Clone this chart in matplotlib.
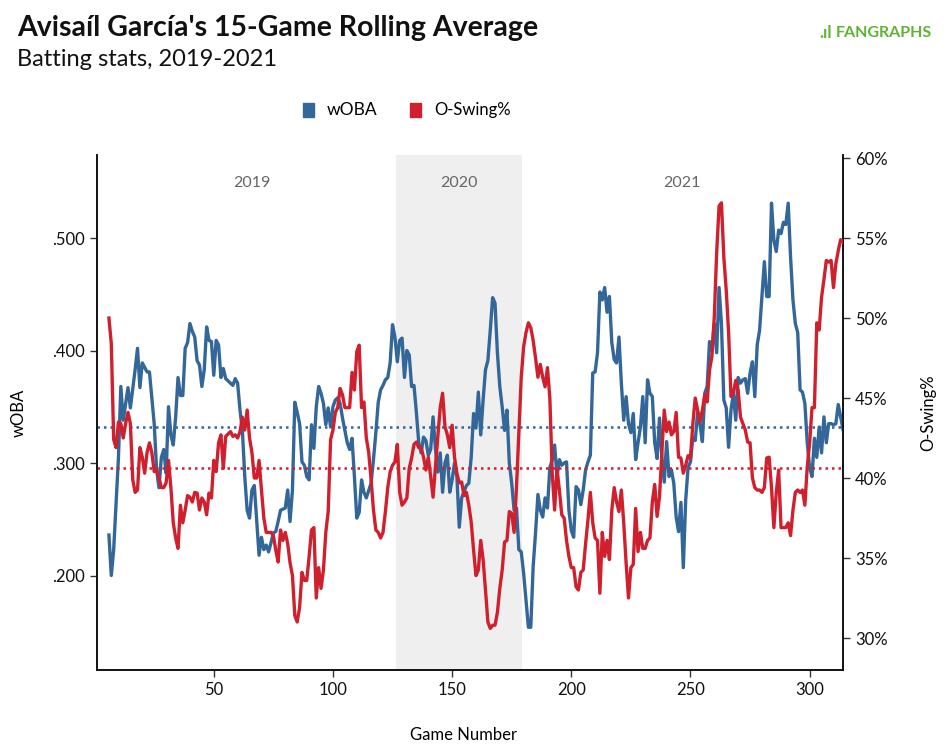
import matplotlib
matplotlib.use("Agg")
import matplotlib.pyplot as plt
from matplotlib.patches import Rectangle

plt.rcParams['font.family'] = ['Lato', 'DejaVu Sans']

# ---------------- data ----------------
woba_games = [6, 7, 8, 10, 11, 12, 14, 15, 17, 18, 19, 20, 22, 23, 25, 26, 27, 28, 29, 30,
              31, 32, 33, 34, 35, 36, 37, 38, 39, 40, 41, 42, 43, 44, 45, 46, 47, 48, 49, 50,
              51, 52, 53, 54, 55, 57, 58, 59, 60, 61, 62, 63, 64, 65, 66, 67, 68, 69, 70, 71,
              72, 73, 74, 75, 76, 77, 78, 80, 81, 82, 83, 84, 85, 86, 87, 88, 89, 90, 91, 92,
              93, 94, 95, 96, 97, 98, 99, 100, 101, 102, 103, 104, 106, 107, 108, 109, 110, 111, 112, 113,
              114, 116, 117, 118, 119, 120, 121, 122, 123, 124, 125, 126, 127, 128, 129, 130, 131, 132, 133, 134,
              135, 136, 137, 138, 139, 140, 141, 142, 143, 144, 145, 146, 147, 148, 149, 150, 151, 152, 153, 154,
              156, 157, 158, 159, 160, 161, 162, 163, 164, 165, 166, 167, 168, 169, 170, 171, 172, 173, 174, 175,
              176, 177, 178, 179, 180, 181, 182, 183, 184, 185, 186, 187, 188, 189, 190, 191, 192, 193, 194, 195,
              196, 197, 198, 199, 200, 201, 202, 203, 204, 205, 206, 207, 208, 209, 210, 211, 212, 213, 214, 215,
              216, 217, 218, 219, 220, 221, 222, 223, 224, 225, 226, 227, 228, 229, 230, 231, 232, 233, 234, 235,
              236, 237, 238, 239, 240, 241, 242, 243, 244, 245, 246, 247, 248, 249, 250, 251, 252, 253, 254, 255,
              256, 257, 258, 259, 260, 261, 262, 263, 264, 265, 266, 267, 268, 269, 270, 271, 272, 273, 274, 275,
              276, 277, 278, 279, 280, 281, 282, 283, 284, 285, 286, 287, 288, 289, 290, 291, 292, 293, 294, 295,
              296, 297, 298, 299, 300, 301, 302, 303, 304, 305, 306, 307, 308, 309, 310, 311, 312, 313, 314]
woba_vals = [.236, .200, .223, .305, .368, .338, .367, .349, .383, .402, .367, .389, .381, .381, .335, .294, .278, .305, .312, .291,
             .350, .325, .316, .341, .376, .360, .360, .402, .407, .424, .417, .412, .391, .387, .368, .383, .421, .409, .408, .378,
             .409, .405, .376, .384, .375, .371, .369, .375, .371, .347, .329, .288, .258, .251, .276, .280, .249, .218, .234, .223,
             .227, .221, .229, .238, .239, .248, .258, .260, .276, .248, .276, .354, .345, .335, .301, .298, .288, .285, .334, .313,
             .350, .368, .362, .353, .334, .349, .332, .350, .356, .358, .353, .340, .318, .312, .322, .288, .251, .256, .285, .274,
             .269, .282, .303, .327, .354, .365, .369, .374, .376, .389, .423, .412, .390, .409, .411, .376, .400, .396, .368, .369,
             .345, .318, .309, .323, .320, .307, .312, .341, .313, .292, .309, .274, .300, .307, .274, .285, .300, .288, .243, .269,
             .280, .282, .305, .344, .331, .363, .325, .356, .383, .391, .418, .447, .442, .398, .368, .350, .329, .347, .300, .282,
             .258, .260, .223, .221, .202, .178, .154, .154, .208, .238, .272, .258, .252, .269, .260, .296, .303, .316, .288, .303,
             .298, .300, .301, .258, .240, .234, .279, .276, .263, .276, .294, .301, .307, .380, .381, .398, .452, .445, .456, .434,
             .448, .407, .392, .389, .412, .371, .338, .359, .335, .327, .344, .303, .318, .332, .359, .318, .374, .362, .359, .318,
             .304, .340, .305, .283, .319, .288, .294, .282, .252, .239, .265, .207, .267, .296, .301, .323, .320, .345, .334, .319,
             .362, .368, .408, .400, .424, .398, .456, .424, .356, .349, .314, .347, .362, .338, .376, .371, .374, .375, .362, .380,
             .390, .359, .405, .418, .448, .479, .448, .448, .531, .498, .488, .507, .504, .514, .512, .531, .483, .445, .424, .416,
             .365, .363, .353, .318, .296, .288, .322, .305, .332, .309, .341, .318, .335, .335, .334, .335, .352, .341, .330]

oswing_games = [6, 7, 8, 9, 10, 11, 12, 13, 14, 15, 16, 17, 18, 19, 20, 21, 22, 23, 24, 25,
                26, 27, 28, 29, 30, 31, 32, 33, 34, 35, 36, 37, 38, 39, 40, 41, 42, 43, 44, 45,
                46, 47, 48, 49, 50, 51, 52, 53, 54, 55, 57, 58, 59, 60, 61, 62, 63, 64, 65, 66,
                67, 68, 69, 70, 71, 72, 73, 74, 75, 76, 77, 78, 79, 80, 81, 82, 83, 84, 85, 86,
                87, 88, 89, 90, 91, 92, 93, 94, 95, 96, 97, 98, 99, 100, 101, 102, 103, 104, 105, 106,
                107, 108, 109, 110, 111, 112, 113, 114, 115, 116, 117, 118, 119, 120, 121, 122, 123, 124, 125, 126,
                127, 128, 129, 130, 131, 132, 133, 134, 135, 136, 137, 138, 139, 140, 141, 142, 143, 144, 145, 146,
                147, 148, 149, 150, 151, 152, 153, 154, 155, 156, 157, 158, 159, 160, 161, 162, 163, 164, 165, 166,
                167, 168, 169, 170, 171, 172, 173, 174, 175, 176, 177, 178, 179, 180, 181, 182, 183, 184, 185, 186,
                187, 188, 189, 190, 191, 192, 193, 194, 195, 196, 197, 198, 199, 200, 201, 202, 203, 204, 205, 206,
                207, 208, 209, 210, 211, 212, 213, 214, 215, 216, 217, 218, 219, 220, 221, 222, 223, 224, 225, 226,
                227, 228, 229, 230, 231, 232, 233, 234, 235, 236, 237, 238, 239, 240, 241, 242, 243, 244, 245, 246,
                247, 248, 249, 250, 251, 252, 253, 254, 255, 256, 257, 258, 259, 260, 261, 262, 263, 264, 265, 266,
                267, 268, 269, 270, 271, 272, 273, 274, 275, 276, 277, 278, 279, 280, 281, 282, 283, 284, 285, 286,
                287, 288, 289, 290, 291, 292, 293, 294, 295, 296, 297, 298, 299, 300, 301, 302, 303, 304, 305, 306,
                307, 308, 309, 310, 311, 312, 313, 314]
oswing_vals = [50.0, 48.4, 42.4, 41.9, 43.5, 43.4, 42.5, 43.4, 44.1, 43.4, 39.9, 39.1, 39.25, 41.9, 41.3, 40.3, 41.6, 42.2, 41.6, 40.4,
               40.5, 40.0, 39.4, 39.4, 39.7, 41.1, 39.4, 37.2, 36.25, 35.6, 38.3, 37.2, 38.0, 38.9, 38.8, 38.5, 39.1, 39.06, 38.0, 38.75,
               38.5, 37.7, 39.06, 38.75, 41.1, 40.4, 42.2, 42.7, 40.6, 42.6, 42.9, 42.6, 42.7, 42.5, 42.9, 43.8, 43.0, 44.25, 42.5, 41.6,
               40.0, 40.0, 41.1, 39.25, 37.5, 36.6, 36.6, 36.6, 36.4, 35.5, 34.75, 36.75, 36.1, 36.6, 35.9, 34.7, 33.9, 31.4, 31.0, 31.9,
               34.1, 33.6, 33.6, 35.1, 36.75, 36.9, 32.5, 34.4, 33.1, 34.25, 36.6, 37.9, 42.4, 43.0, 44.1, 44.4, 45.6, 45.2, 44.4, 44.4,
               44.4, 46.6, 45.5, 47.9, 48.3, 44.4, 44.75, 42.5, 41.6, 39.9, 38.0, 36.75, 36.6, 36.25, 36.6, 37.9, 39.4, 40.4, 40.8, 41.0,
               42.1, 39.1, 38.3, 38.5, 38.75, 40.6, 41.25, 42.1, 42.25, 41.9, 41.9, 41.3, 40.5, 41.3, 40.1, 38.8, 40.7, 42.6, 44.4, 45.3,
               43.2, 42.7, 41.9, 43.3, 41.3, 40.3, 39.7, 39.75, 38.9, 39.1, 38.3, 37.25, 35.5, 33.9, 34.25, 36.1, 34.9, 33.0, 31.0, 30.6,
               30.8, 30.8, 31.6, 33.1, 34.25, 36.0, 36.1, 37.9, 37.8, 36.6, 39.4, 42.8, 46.3, 48.2, 49.1, 49.7, 49.4, 48.6, 47.5, 46.3,
               47.1, 46.3, 45.7, 46.9, 45.0, 40.3, 38.0, 40.6, 39.25, 37.7, 37.5, 36.1, 35.1, 34.4, 34.4, 33.2, 33.0, 34.1, 34.25, 35.9,
               37.4, 39.1, 37.2, 36.25, 36.1, 32.8, 36.6, 35.1, 36.1, 34.9, 38.0, 39.4, 38.5, 37.9, 39.25, 37.2, 34.7, 32.5, 34.4, 34.6,
               38.1, 35.4, 36.6, 35.6, 35.6, 36.1, 36.25, 38.5, 39.6, 37.6, 38.8, 41.6, 44.25, 42.9, 43.5, 42.7, 42.9, 44.1, 41.3, 41.25,
               40.3, 40.8, 41.4, 41.25, 43.4, 45.0, 44.25, 43.5, 44.25, 45.2, 44.75, 46.75, 47.6, 50.1, 54.1, 57.0, 57.2, 53.8, 51.75, 49.1,
               45.1, 45.3, 46.1, 45.5, 43.8, 43.4, 43.0, 42.25, 42.2, 40.0, 39.4, 39.25, 39.25, 39.1, 39.4, 41.25, 41.3, 39.4, 36.9, 39.1,
               40.5, 36.9, 36.9, 36.9, 37.2, 36.4, 38.0, 39.1, 39.25, 39.1, 39.25, 38.3, 40.7, 42.2, 44.4, 44.4, 49.7, 49.25, 51.3, 52.4,
               53.6, 53.5, 53.6, 51.9, 53.4, 54.2, 54.9, 54.75]

woba_avg = 0.332
oswing_avg = 40.6

seasons = ["2019", "2020", "2021"]
season_bounds = [(6, 126.3), (126.3, 179.2), (179.2, 314)]
shaded_season = "2020"

woba_ticks = [0.2, 0.3, 0.4, 0.5]
woba_ticklabels = [".200", ".300", ".400", ".500"]
oswing_ticks = [30, 35, 40, 45, 50, 55, 60]
game_ticks = [50, 100, 150, 200, 250, 300]

BLUE = "#336699"
RED = "#d0202e"
GREEN = "#5cb531"

# ---------------- figure ----------------
W, H = 947, 753
fig = plt.figure(figsize=(W / 100, H / 100), dpi=100)
ax = fig.add_axes([97 / W, 1 - 670 / H, (843 - 97) / W, (670 - 155) / H])
ax2 = ax.twinx()

for name, (a, b) in zip(seasons, season_bounds):
    if name == shaded_season:
        ax.axvspan(a, b, color="#efefef", zorder=0, lw=0)
    ax.text((a + b) / 2, 0.549, name, ha="center", va="center",
            fontsize=11.5, color="#666666")

ax.axhline(woba_avg, color=BLUE, ls=(0, (1, 1.6)), lw=1.8, zorder=2)
ax2.axhline(oswing_avg, color=RED, ls=(0, (1, 1.6)), lw=1.8, zorder=2)

ax.plot(woba_games, woba_vals, color=BLUE, lw=2.4, solid_joinstyle="round", zorder=3)
ax2.plot(oswing_games, oswing_vals, color=RED, lw=2.4, solid_joinstyle="round", zorder=3)

ax.set_xlim(1, 314)
ax.set_ylim(0.116, 0.5738)
ax2.set_ylim(28.0, 60.19)

ax.set_yticks(woba_ticks)
ax.set_yticklabels(woba_ticklabels)
ax2.set_yticks(oswing_ticks)
ax2.set_yticklabels([f"{t}%" for t in oswing_ticks])
ax.set_xticks(game_ticks)

for a in (ax, ax2):
    a.spines["top"].set_visible(False)
    for s in ("left", "right", "bottom"):
        a.spines[s].set_linewidth(1.2)
        a.spines[s].set_color("#111111")
    a.tick_params(labelsize=12, length=5, width=1, color="#333333", labelcolor="#111111")

ax.set_ylabel("wOBA", fontsize=12)
ax.yaxis.set_label_coords((27 - 97) / 746, 0.5)
ax2.set_ylabel("O-Swing%", fontsize=12)
ax2.yaxis.set_label_coords((920 - 97) / 746, 0.5)
ax.set_xlabel("Game Number", fontsize=12)
ax.xaxis.set_label_coords(0.491, (670 - 727) / 515)

# title & subtitle
fig.text(17 / W, 1 - 28 / H, "Avisaíl García's 15-Game Rolling Average", fontsize=20.5,
         fontweight="bold", ha="left", va="center", color="#111111")
fig.text(17 / W, 1 - 59 / H, "Batting stats, 2019-2021", fontsize=17,
         ha="left", va="center", color="#111111")

# logo
fig.text(932 / W, 1 - 33 / H, "FANGRAPHS", fontsize=11.5, fontweight="bold",
         ha="right", va="center", color=GREEN)
fig.text(819 / W, 1 - 33 / H, ".ıl", fontsize=12, fontweight="bold",
         ha="left", va="center", color=GREEN)

# legend
fig.patches.append(Rectangle((303 / W, 1 - 117 / H), 11 / W, 14 / H,
                             transform=fig.transFigure, color=BLUE))
fig.text(327 / W, 1 - 110 / H, "wOBA", fontsize=12.5, ha="left", va="center")
fig.patches.append(Rectangle((410 / W, 1 - 117 / H), 11 / W, 14 / H,
                             transform=fig.transFigure, color=RED))
fig.text(434 / W, 1 - 110 / H, "O-Swing%", fontsize=12, ha="left", va="center")

fig.savefig("out.png", dpi=100)
